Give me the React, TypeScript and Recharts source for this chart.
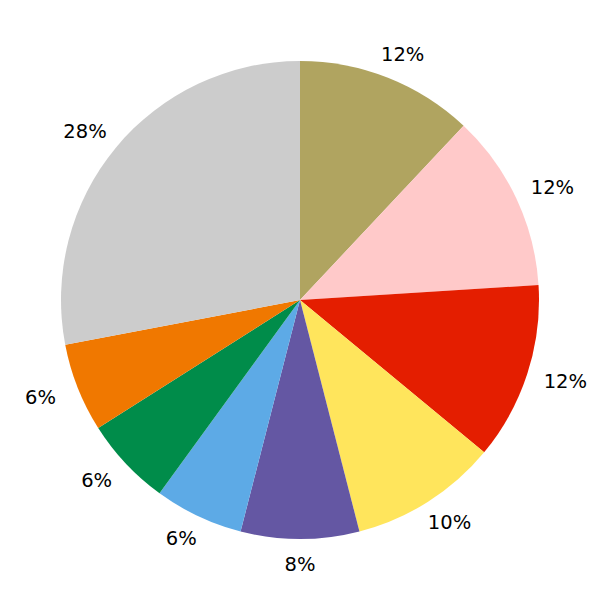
import React from "react";
import { PieChart, Pie, Cell } from "recharts";

const categories = ["A", "B", "C", "D", "E", "F", "G", "H", "I"];
const values = [12, 12, 12, 10, 8, 6, 6, 6, 28];
const colors = [
  "#b0a460",
  "#ffc9c9",
  "#e41e00",
  "#ffe55c",
  "#6457a3",
  "#5daae6",
  "#008c4a",
  "#f07800",
  "#cccccc",
];

const data = categories.map((name, i) => ({ name, value: values[i] }));

const RAD = Math.PI / 180;

const renderLabel = (props: any) => {
  const { cx, cy, midAngle, value } = props;
  const d0 = 257;
  const hw = 22;
  const hh = 7;
  const c = Math.cos(-midAngle * RAD);
  const s = Math.sin(-midAngle * RAD);
  const x = cx + d0 * c + hw * c;
  const y = cy + d0 * s + hh * s;
  return (
    <text
      x={x}
      y={y}
      fill="#000"
      textAnchor="middle"
      dominantBaseline="central"
      fontFamily="DejaVu Sans"
      fontSize={19.5}
    >
      {`${value}%`}
    </text>
  );
};

export default function App() {
  return (
    <div style={{ position: "absolute", left: 0, top: 0, background: "#fff" }}>
      <PieChart width={600} height={600} margin={{ top: 0, right: 0, bottom: 0, left: 0 }}>
        <Pie
          data={data}
          dataKey="value"
          nameKey="name"
          cx={300}
          cy={300}
          outerRadius={239}
          innerRadius={0}
          startAngle={90}
          endAngle={-270}
          stroke="none"
          label={renderLabel}
          labelLine={false}
          isAnimationActive={false}
        >
          {data.map((d, i) => (
            <Cell key={d.name} fill={colors[i]} stroke="none" />
          ))}
        </Pie>
      </PieChart>
    </div>
  );
}
